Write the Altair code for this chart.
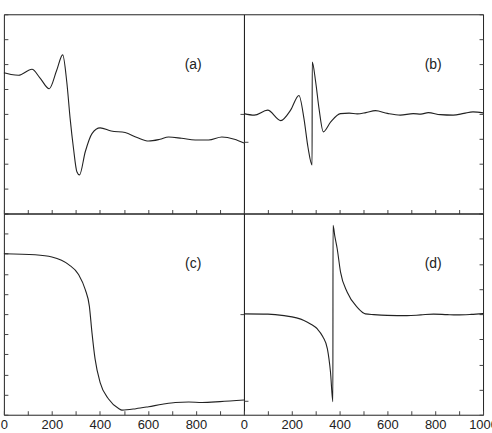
import altair as alt
import pandas as pd

# ---- data (arbitrary units) ----
a_x = [0, 30, 61, 117, 150, 189, 220, 245, 262, 276, 290, 304, 315, 339, 367, 401, 447,
       505, 555, 603, 650, 686, 740, 797, 853, 908, 960, 1000]
a_y = [5.65, 5.58, 5.55, 5.79, 5.45, 5.01, 5.75, 6.37, 5.28, 3.81, 2.61, 1.68, 1.55, 2.48,
       3.21, 3.44, 3.31, 3.25, 3.05, 2.91, 2.98, 3.07, 3.02, 2.95, 2.95, 3.07, 2.98, 2.83]

b_x = [0, 43, 99, 154, 195, 230, 251, 268, 285, 285.5, 300, 314, 332, 363, 404, 440, 474,
       510, 550, 600, 654, 708, 740, 771, 821, 875, 920, 958, 1000]
b_y = [4.01, 3.95, 4.15, 3.73, 4.15, 4.74, 3.81, 2.65, 1.95, 6.08, 5.28, 4.21, 3.28, 3.68,
       4.01, 4.03, 4.0, 4.05, 4.13, 4.02, 3.95, 4.01, 3.99, 4.05, 3.97, 3.95, 4.02, 4.08, 4.04]

c_x = [0, 130, 200, 270, 311, 339, 356, 367, 380, 401, 436, 478, 492, 550, 603, 660, 714,
       770, 825, 900, 1000]
c_y = [8.0, 7.95, 7.84, 7.46, 6.97, 6.22, 5.40, 4.07, 2.76, 1.60, 0.78, 0.31, 0.23, 0.30,
       0.40, 0.52, 0.61, 0.63, 0.61, 0.65, 0.73]

d_x = [0, 100, 168, 220, 251, 280, 307, 330, 349, 362, 372, 372.5, 380, 390, 404, 432, 474,
       508, 543, 600, 682, 740, 793, 850, 890, 950, 1000]
d_y = [4.01, 4.0, 3.94, 3.85, 3.75, 3.6, 3.41, 3.1, 2.62, 1.69, 0.52, 7.53, 7.1, 6.60, 5.67,
       4.87, 4.27, 4.01, 3.98, 3.95, 3.94, 3.97, 4.0, 3.98, 3.97, 3.99, 4.02]

x_ticks = [0, 100, 200, 300, 400, 500, 600, 700, 800, 900, 1000]

LINE = "#222222"
TICK = "#444444"
FONT = "Liberation Sans"


def tick_axis(**kw):
    return alt.Axis(domain=False, grid=False, tickSize=4, offset=-4, tickColor=TICK,
                    tickWidth=1, title=None, minExtent=0, labelFont=FONT, labelFontSize=13,
                    labelColor=LINE, labelPadding=4, labelFlush=False, labelOverlap=False,
                    **kw)


def panel(xs, ys, label, ymax, left_ticks, right_ticks, w, h, show_labels, hide_last):
    df = pd.DataFrame({"x": xs, "y": ys})
    if show_labels:
        if hide_last:
            lexpr = "(datum.value % 200 == 0 && datum.value < 1000) ? datum.label : ''"
        else:
            lexpr = "(datum.value % 200 == 0) ? datum.label : ''"
        xaxis = tick_axis(values=x_ticks, labels=True, format="d", labelExpr=lexpr,
                          orient="bottom")
    else:
        xaxis = tick_axis(values=x_ticks, labels=False, orient="bottom")
    xenc = alt.X("x:Q", scale=alt.Scale(domain=[0, 1000], nice=False), axis=xaxis)
    yscale = alt.Scale(domain=[0, ymax], nice=False, zero=False)
    line = alt.Chart(df).mark_line(color=LINE, strokeWidth=1.1, interpolate="monotone").encode(
        x=xenc,
        y=alt.Y("y:Q", scale=yscale,
                axis=tick_axis(values=left_ticks, labels=False, orient="left")),
    )
    ghost = alt.Chart(df).mark_line(strokeOpacity=0).encode(
        x=xenc,
        y=alt.Y("y:Q", scale=yscale,
                axis=tick_axis(values=right_ticks, labels=False, orient="right")),
    )
    txt = alt.Chart(pd.DataFrame({"t": [label]})).mark_text(
        font=FONT, fontSize=14, color=LINE, align="center", baseline="middle"
    ).encode(text="t:N", x=alt.value(190), y=alt.value(51))
    return alt.layer(line, ghost, txt).resolve_axis(y="independent").properties(width=w, height=h)


full8 = [0, 1, 2, 3, 4, 5, 6, 7, 8]
full10 = [0, 1, 2, 3, 4, 5, 6, 7, 8, 9, 10]

pa = panel(a_x, a_y, "(a)", 8, full8, [4], 241, 200, False, False)
pb = panel(b_x, b_y, "(b)", 8, [2.88], full8, 240, 200, False, False)
pc = panel(c_x, c_y, "(c)", 10, full10, [5], 241, 202, True, True)
pd_ = panel(d_x, d_y, "(d)", 8, [0.56], full8, 240, 202, True, False)

chart = alt.concat(pa, pb, pc, pd_, columns=2, spacing=0, bounds="flush").properties(
    padding={"left": -1.1, "top": 12.5, "right": -6, "bottom": 0},
    background="white",
).configure_view(
    stroke="#222222", strokeWidth=1
)

chart.save("out.html", embed_options={"renderer": "svg", "actions": False})
